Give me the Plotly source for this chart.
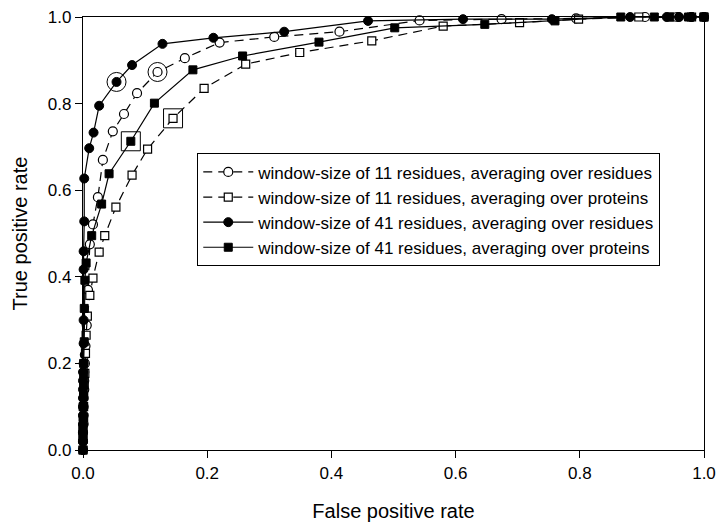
import plotly.graph_objects as go

# 11-residue window, averaging over residues (open circles, dashed)
w11_res_x = [0.0, 0.0, 0.0, 0.001, 0.001, 0.001, 0.001, 0.002, 0.002, 0.002, 0.003, 0.003, 0.004,
             0.006, 0.008, 0.011, 0.016, 0.024, 0.032, 0.048, 0.066, 0.087, 0.120, 0.164,
             0.220, 0.308, 0.413, 0.542, 0.674, 0.794, 0.905, 0.958, 0.98, 1.0]
w11_res_y = [0.0, 0.02, 0.04, 0.06, 0.08, 0.10, 0.12, 0.14, 0.16, 0.18, 0.20, 0.22, 0.24,
             0.288, 0.37, 0.475, 0.521, 0.584, 0.670, 0.736, 0.776, 0.824, 0.873, 0.905,
             0.941, 0.954, 0.966, 0.992, 0.995, 0.997, 1.0, 1.0, 1.0, 1.0]

# 11-residue window, averaging over proteins (open squares, dashed)
w11_prot_x = [0.0, 0.0, 0.0, 0.001, 0.001, 0.001, 0.002, 0.003, 0.004, 0.005, 0.007, 0.011,
              0.016, 0.026, 0.035, 0.053, 0.079, 0.104, 0.145, 0.195, 0.262, 0.349, 0.465,
              0.580, 0.703, 0.798, 0.895, 0.95, 0.98, 1.0]
w11_prot_y = [0.0, 0.025, 0.05, 0.075, 0.10, 0.125, 0.155, 0.177, 0.223, 0.265, 0.309, 0.357,
              0.397, 0.457, 0.495, 0.561, 0.635, 0.695, 0.766, 0.835, 0.891, 0.918, 0.945,
              0.979, 0.987, 0.995, 1.0, 1.0, 1.0, 1.0]

# 41-residue window, averaging over residues (filled circles, solid)
w41_res_x = [0.0, 0.0, 0.0, 0.0, 0.0, 0.0, 0.0, 0.0, 0.0, 0.0, 0.001, 0.001, 0.001, 0.001,
             0.001, 0.002, 0.002, 0.010, 0.017, 0.026, 0.054, 0.079, 0.128, 0.210, 0.324,
             0.459, 0.612, 0.755, 0.881, 0.94, 0.96, 0.98, 1.0]
w41_res_y = [0.0, 0.02, 0.04, 0.06, 0.08, 0.10, 0.12, 0.14, 0.16, 0.18, 0.20, 0.246, 0.30,
             0.417, 0.459, 0.528, 0.627, 0.697, 0.733, 0.795, 0.850, 0.889, 0.938, 0.952,
             0.966, 0.991, 0.995, 0.995, 1.0, 1.0, 1.0, 1.0, 1.0]

# 41-residue window, averaging over proteins (filled squares, solid)
w41_prot_x = [0.0, 0.0, 0.0, 0.0, 0.0, 0.001, 0.001, 0.001, 0.001, 0.002, 0.002, 0.003, 0.005,
              0.014, 0.030, 0.042, 0.077, 0.115, 0.177, 0.257, 0.380, 0.502, 0.647, 0.760,
              0.866, 0.92, 0.945, 0.975, 1.0]
w41_prot_y = [0.0, 0.025, 0.05, 0.075, 0.10, 0.125, 0.15, 0.175, 0.20, 0.25, 0.327, 0.392,
              0.432, 0.495, 0.568, 0.638, 0.713, 0.801, 0.878, 0.910, 0.942, 0.975, 0.983,
              0.991, 1.0, 1.0, 1.0, 1.0, 1.0]

# highlighted operating points (ringed markers)
hl_circle_x = [0.054, 0.120]
hl_circle_y = [0.850, 0.873]
hl_square_x = [0.077, 0.145]
hl_square_y = [0.713, 0.766]

names = ["window-size of 11 residues, averaging over residues",
         "window-size of 11 residues, averaging over proteins",
         "window-size of 41 residues, averaging over residues",
         "window-size of 41 residues, averaging over proteins"]

font = "Liberation Sans, Arial, sans-serif"
dash = "9px,6px"
fig = go.Figure()
fig.add_trace(go.Scatter(x=w11_res_x, y=w11_res_y, name=names[0], mode="lines+markers",
                         line=dict(color="black", width=1.2, dash=dash),
                         marker=dict(symbol="circle", size=9, color="white",
                                     line=dict(color="black", width=1.2)),
                         cliponaxis=False))
fig.add_trace(go.Scatter(x=w11_prot_x, y=w11_prot_y, name=names[1], mode="lines+markers",
                         line=dict(color="black", width=1.2, dash=dash),
                         marker=dict(symbol="square", size=8, color="white",
                                     line=dict(color="black", width=1.2)),
                         cliponaxis=False))
fig.add_trace(go.Scatter(x=w41_res_x, y=w41_res_y, name=names[2], mode="lines+markers",
                         line=dict(color="black", width=1.2),
                         marker=dict(symbol="circle", size=9, color="black",
                                     line=dict(color="black", width=1)),
                         cliponaxis=False))
fig.add_trace(go.Scatter(x=w41_prot_x, y=w41_prot_y, name=names[3], mode="lines+markers",
                         line=dict(color="black", width=1.2),
                         marker=dict(symbol="square", size=8, color="black",
                                     line=dict(color="black", width=1)),
                         cliponaxis=False))
fig.add_trace(go.Scatter(x=hl_circle_x, y=hl_circle_y, mode="markers", showlegend=False,
                         hoverinfo="skip",
                         marker=dict(symbol="circle-open", size=19, color="black",
                                     line=dict(color="black", width=1)),
                         cliponaxis=False))
fig.add_trace(go.Scatter(x=hl_square_x, y=hl_square_y, mode="markers", showlegend=False,
                         hoverinfo="skip",
                         marker=dict(symbol="square-open", size=19, color="black",
                                     line=dict(color="black", width=1)),
                         cliponaxis=False))

axis_common = dict(range=[0, 1], dtick=0.2, tickformat=".1f", showline=True,
                   linecolor="black", linewidth=1.2, mirror=True, ticks="outside",
                   ticklen=7, tickcolor="black", tickwidth=1.2, showgrid=False,
                   zeroline=False, automargin=False,
                   tickfont=dict(size=17, color="black", family=font))

fig.update_layout(
    width=718, height=527,
    margin=dict(l=83, r=14, t=17, b=77),
    paper_bgcolor="white", plot_bgcolor="white",
    font=dict(family=font, color="black"),
    xaxis=dict(**axis_common,
               title=dict(text="False positive rate", font=dict(size=20, color="black"),
                          standoff=22)),
    yaxis=dict(**axis_common,
               title=dict(text="True positive rate", font=dict(size=20, color="black"),
                          standoff=14)),
    legend=dict(x=0.184, y=0.685, xanchor="left", yanchor="top",
                bgcolor="white", bordercolor="black", borderwidth=1,
                font=dict(size=17, color="black", family=font),
                itemwidth=50, tracegroupgap=0),
    showlegend=True,
)

fig.write_html("out.html", config={"displayModeBar": False},
               post_script="document.body.style.margin='0';")
